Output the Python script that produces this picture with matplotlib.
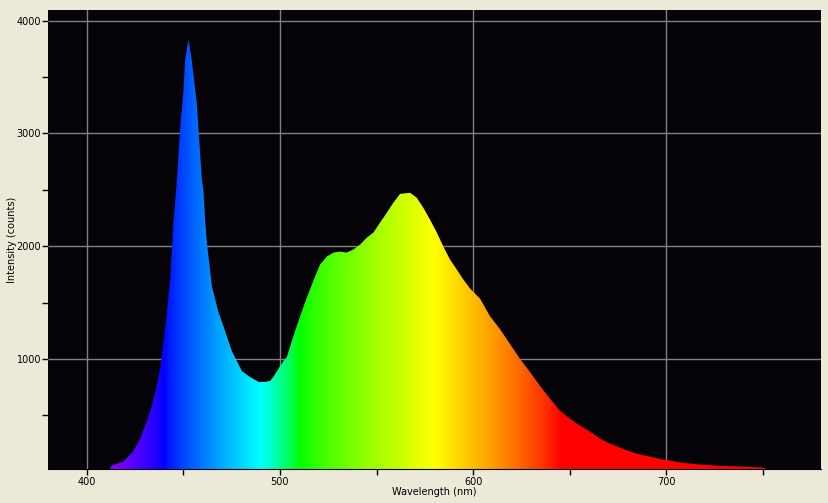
#!/usr/bin/env python3
"""White LED emission spectrum, filled with the visible-spectrum colours."""

import matplotlib

matplotlib.use("Agg")
import matplotlib.pyplot as plt
import numpy as np
from matplotlib.patches import Polygon
from matplotlib.ticker import MultipleLocator

# values
wavelength_nm = [
    411, 413, 419, 424, 427.7, 431, 433.7, 436.3, 438, 439.7, 441.5, 443.2, 444, 444.9,
    446.7, 448.4, 450, 451, 452.7, 454.4, 455.6, 457, 457.8, 459.6, 460.4, 461.3, 462.2,
    463.4, 464.8, 466.5, 468.2, 470.8, 472.5, 475.1, 477.7, 480.3, 483.7, 486.3, 488.9,
    492.3, 494.9, 496.6, 499.2, 501.8, 503.6, 507, 510.5, 513, 515.6, 518.2, 520.8, 524.3,
    527.7, 531.1, 534.6, 538, 541.5, 545, 548.4, 551.8, 555.3, 558.7, 562.2, 567.4, 570.8,
    574.2, 577.7, 581.2, 584.6, 588, 591.5, 594.9, 598.4, 603.6, 608.7, 613.9, 619.1, 624.3,
    629.4, 634.6, 639.8, 645, 650.1, 655.3, 660.5, 665.7, 670.8, 676, 681.2, 686.4, 691.5,
    696.7, 701.9, 707, 717.4, 727.7, 738, 750, 755,
]
intensity = [
    0, 56, 90, 180, 294, 444, 585, 762, 912, 1150, 1415, 1706, 1944, 2209,
    2589, 3056, 3357, 3665, 3833, 3648, 3471, 3268, 3056, 2589, 2500, 2236, 2033,
    1856, 1644, 1530, 1415, 1291, 1203, 1071, 982, 894, 850, 823, 797,
    797, 806, 841, 912, 982, 1018, 1203, 1380, 1503, 1618, 1733, 1838, 1909,
    1944, 1953, 1944, 1971, 2015, 2077, 2121, 2209, 2297, 2386, 2465, 2474, 2430,
    2342, 2236, 2121, 1997, 1883, 1794, 1706, 1625, 1535, 1380, 1265, 1132, 1000,
    885, 762, 647, 541, 470, 409, 356, 294, 250, 214, 179, 153, 135,
    112, 100, 82, 64, 53, 47, 38, 0,
]

BG = "#ECE9D8"


def wavelength_rgb(wl, gamma=0.8):
    r = g = b = 0.0
    if wl < 440:
        r, b = (440 - wl) / 60, 1.0
    elif wl < 490:
        g, b = (wl - 440) / 50, 1.0
    elif wl < 510:
        g, b = 1.0, (510 - wl) / 20
    elif wl < 580:
        r, g = (wl - 510) / 70, 1.0
    elif wl < 645:
        r, g = 1.0, (645 - wl) / 65
    else:
        r = 1.0
    return [max(c, 0.0) ** gamma for c in (r, g, b)]


def main():
    fig = plt.figure(figsize=(8.29, 5.03), dpi=100, facecolor=BG)
    ax = fig.add_axes([48 / 829, 1 - 469 / 503, 773 / 829, 459 / 503])
    ax.set_facecolor("#050307")
    ax.set_xlim(380, 780)
    ax.set_ylim(25, 4095)

    cols = np.linspace(380, 780, 801)
    rgb = np.array([[wavelength_rgb(w) for w in cols]])
    im = ax.imshow(rgb, extent=(380, 780, 0, 4095), aspect="auto", origin="lower",
                   interpolation="bilinear", zorder=2)
    verts = [(wavelength_nm[0], 0)] + list(zip(wavelength_nm, intensity)) + [(wavelength_nm[-1], 0)]
    shape = Polygon(verts, closed=True, facecolor="none", edgecolor="none", transform=ax.transData)
    ax.add_patch(shape)
    im.set_clip_path(shape)

    ax.xaxis.set_major_locator(MultipleLocator(100))
    ax.xaxis.set_minor_locator(MultipleLocator(50))
    ax.yaxis.set_major_locator(MultipleLocator(1000))
    ax.yaxis.set_minor_locator(MultipleLocator(500))
    ax.tick_params(which="both", direction="out", length=4, width=1, color="black",
                   labelsize=7, pad=2)
    ax.tick_params(axis="y", which="both", pad=1)
    ax.grid(True, which="major", color="#808080", lw=1)
    ax.set_axisbelow(True)
    for side in ("top", "right", "left"):
        ax.spines[side].set_visible(False)
    ax.spines["bottom"].set_color("black")

    ax.set_xlabel("Wavelength (nm)", fontsize=7)
    ax.set_ylabel("Intensity (counts)", fontsize=7)
    ax.xaxis.set_label_coords(0.5, -(487 - 469) / 459)
    ax.yaxis.set_label_coords(-(48 - 17) / 773, 0.5)

    fig.savefig("out.png", dpi=100, facecolor=BG)


if __name__ == "__main__":
    main()
